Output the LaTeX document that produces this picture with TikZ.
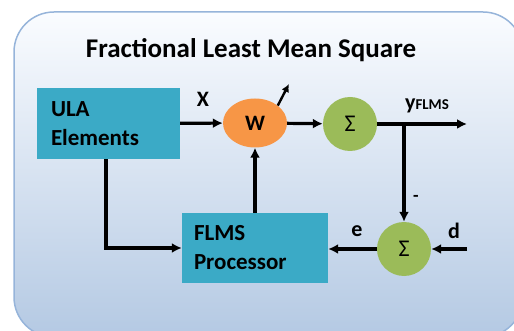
\documentclass[tikz,border=0pt]{standalone}
\usepackage{fontspec}
\setmainfont{Carlito}
\usetikzlibrary{arrows.meta,shapes.geometric}
\definecolor{boxteal}{RGB}{59,170,198}
\definecolor{worange}{RGB}{247,150,70}
\definecolor{sgreen}{RGB}{155,187,89}
\definecolor{bgtop}{RGB}{250,252,255}
\definecolor{bgbot}{RGB}{180,201,227}
\definecolor{bgline}{RGB}{150,180,218}
\tikzset{
  blockbox/.style={fill=boxteal, minimum width=#1, inner xsep=12pt, align=left, font=\fontsize{23}{29}\selectfont\bfseries},
  wnode/.style={ellipse, fill=worange, minimum width=64pt, minimum height=49pt, inner sep=0pt, font=\fontsize{22}{24}\selectfont\bfseries},
  snode/.style={circle, fill=sgreen, minimum size=54pt, inner sep=0pt, font=\fontsize{24}{26}\selectfont},
  conn/.style={line width=3.2pt, -{Latex[length=10pt,width=10pt]}},
  lbl/.style={font=\fontsize{22}{24}\selectfont\bfseries, inner sep=0pt},
}
\begin{document}
\begin{tikzpicture}[x=1pt,y=-1pt]
\useasboundingbox (0,0) rectangle (514,331);
\clip (0,0) rectangle (514,331);
\path[draw=bgline, line width=1.5pt, top color=bgtop, bottom color=bgbot, rounded corners=40pt] (14,12) rectangle (523,337);
\node[font=\fontsize{27}{30}\selectfont\bfseries] (title) at (251,50) {Fractional Least Mean Square};
\node[blockbox=143pt, minimum height=71pt, text width=115pt] (ula) at (108.5,123.5) {ULA\\Elements};
\node[blockbox=146pt, minimum height=70pt, text width=122pt] (flms) at (255,248) {FLMS\\Processor};
\node[wnode] (w) at (255,123) {W};
\node[snode] (s1) at (350,124) {Σ};
\node[snode] (s2) at (404,249) {Σ};
\coordinate (out) at (467,124);
\coordinate (br) at (404,124);
\coordinate (din) at (467,249);
\coordinate (wtip) at (289,84);
% connectors
\draw[conn] (ula) -- (w);
\draw[conn] (w) -- (s1);
\draw[conn] (s1.east) -- (out);
\draw[conn] (br) -- (s2.north);
\draw[conn] (din) -- (s2.east);
\draw[conn] (s2.west) -- (s2.west -| flms.east);
\draw[conn] ([xshift=-2.5pt]ula.south) |- (flms.west);
\draw[conn] (flms.north) -- (w.south);
\draw[line width=2.4pt, -{Latex[length=8pt,width=8pt]}] (w.north east) -- (wtip);
% labels
\node[lbl] (lx) at (203,99) {X};
\node[lbl, anchor=base] (ly) at (427,110) {y{\fontsize{15}{16}\selectfont FLMS}};
\node[lbl, font=\fontsize{18}{20}\selectfont\bfseries] (lminus) at (416,198) {-};
\node[lbl] (le) at (357,231) {e};
\node[lbl] (ld) at (454,231) {d};
\end{tikzpicture}
\end{document}
